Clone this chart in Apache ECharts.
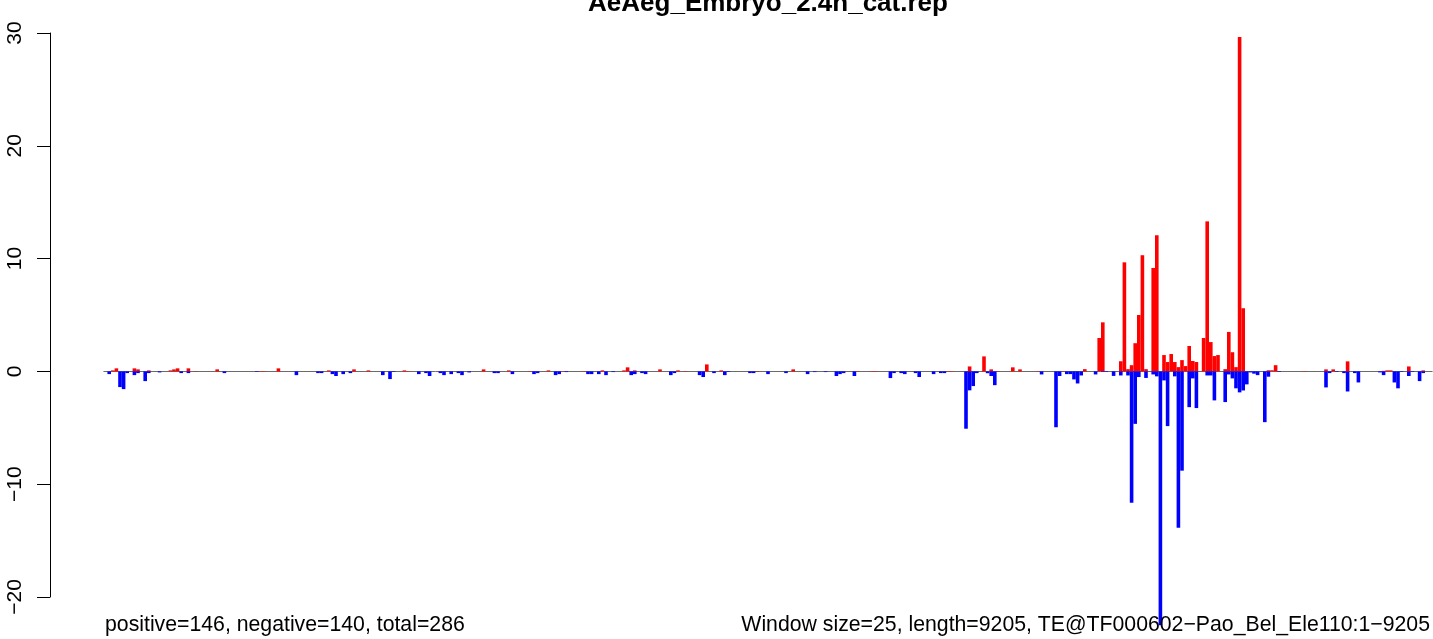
<!DOCTYPE html>
<html><head><meta charset="utf-8">
<script src="https://cdn.jsdelivr.net/npm/echarts@6/dist/echarts.min.js"></script>
<style>html,body{margin:0;padding:0;background:#fff}#c{width:1433px;height:639px}</style>
</head><body><div id="c"></div>
<script>
// ---- data ----
const chartTitle = 'AeAeg_Embryo_2.4h_cat.rep';
const footerLeft = 'positive=146, negative=140, total=286';
const footerRight = 'Window size=25, length=9205, TE@TF000602\u2212Pao_Bel_Ele110:1\u22129205';
const windowCount = 369;            // 9205 / 25, rounded up
const yTickValues = [-20, -10, 0, 10, 20, 30];
// [window index, value]
const positiveWindows = [
  [2,0.09],[3,0.27],[8,0.27],[9,0.18],[12,0.09],[18,0.09],[19,0.18],[20,0.27],[23,0.27],[25,0.03],
  [31,0.18],[43,0.03],[44,0.03],[48,0.27],[62,0.09],[69,0.18],[73,0.09],[83,0.09],[84,0.03],
  [105,0.18],[112,0.09],[118,0.03],[123,0.09],[127,0.03],[133,0.03],[138,0.09],[144,0.09],[145,0.36],
  [147,0.09],[154,0.18],[159,0.09],[161,0.03],[167,0.62],[171,0.09],[181,0.03],[191,0.18],[209,0.03],
  [213,0.03],[214,0.03],[234,0.03],[235,0.03],[240,0.44],[244,1.33],[246,0.18],[248,0.03],[252,0.36],
  [254,0.18],[259,0.03],[266,0.03],[272,0.2],[276,2.96],[277,4.35],[282,0.9],[283,9.67],[284,0.2],
  [285,0.55],[286,2.5],[287,5.0],[288,10.3],[289,0.2],[291,9.17],[292,12.07],[294,1.45],[295,0.83],
  [296,1.54],[297,0.83],[298,0.38],[299,1.0],[300,0.47],[301,2.25],[302,0.92],[303,0.83],[305,2.96],
  [306,13.3],[307,2.6],[308,1.36],[309,1.45],[311,0.2],[312,3.5],[313,1.7],[314,0.38],[315,29.65],
  [316,5.6],[323,0.1],[324,0.1],[325,0.55],[333,0.03],[339,0.18],[341,0.18],[345,0.89],[355,0.05],
  [356,0.09],[357,0.09],[362,0.44],[366,0.09]
];
const negativeWindows = [
  [1,-0.24],[4,-1.39],[5,-1.57],[6,-0.15],[8,-0.33],[9,-0.15],[11,-0.86],[12,-0.15],[15,-0.09],[21,-0.15],
  [23,-0.15],[33,-0.15],[42,-0.05],[53,-0.33],[59,-0.15],[60,-0.15],[63,-0.24],[64,-0.41],[66,-0.24],
  [68,-0.15],[77,-0.33],[79,-0.68],[80,-0.05],[87,-0.24],[89,-0.15],[90,-0.41],[93,-0.15],[94,-0.33],
  [96,-0.24],[98,-0.15],[99,-0.33],[101,-0.09],[108,-0.15],[109,-0.15],[113,-0.24],[119,-0.24],
  [120,-0.15],[125,-0.33],[126,-0.24],[128,-0.06],[134,-0.24],[135,-0.24],[137,-0.24],[139,-0.33],
  [141,-0.06],[146,-0.33],[147,-0.24],[149,-0.15],[150,-0.24],[157,-0.33],[158,-0.15],[165,-0.33],
  [166,-0.5],[169,-0.15],[172,-0.33],[173,-0.05],[179,-0.15],[180,-0.15],[184,-0.24],[189,-0.15],
  [195,-0.24],[197,-0.06],[200,-0.06],[203,-0.41],[204,-0.24],[205,-0.15],[208,-0.41],[218,-0.59],
  [219,-0.15],[221,-0.15],[222,-0.24],[225,-0.15],[226,-0.5],[230,-0.24],[232,-0.15],[233,-0.15],
  [239,-5.08],[240,-1.68],[241,-1.3],[242,-0.15],[245,-0.16],[246,-0.41],[247,-1.22],[260,-0.27],
  [264,-4.95],[265,-0.41],[267,-0.24],[268,-0.24],[269,-0.71],[270,-1.07],[271,-0.36],[275,-0.27],
  [277,-0.05],[278,-0.05],[280,-0.4],[282,-0.36],[284,-0.36],[285,-11.65],[286,-4.65],[287,-0.5],
  [289,-0.58],[291,-0.27],[292,-0.44],[293,-22.5],[294,-0.8],[295,-4.85],[297,-0.44],[298,-13.85],
  [299,-8.8],[301,-3.17],[302,-0.62],[303,-3.25],[306,-0.36],[307,-0.36],[308,-2.57],[311,-2.72],
  [312,-0.27],[313,-0.62],[314,-1.5],[315,-1.86],[316,-1.69],[317,-1.15],[318,-0.09],[319,-0.2],
  [320,-0.33],[322,-4.5],[323,-0.47],[326,-0.05],[339,-1.42],[340,-0.15],[342,-0.05],[344,-0.15],
  [345,-1.78],[347,-0.15],[348,-0.98],[354,-0.09],[355,-0.33],[358,-0.98],[359,-1.5],[360,-0.05],
  [362,-0.41],[363,-0.05],[365,-0.86],[366,-0.15]
];

// ---- build ----
const categories = Array.from({length: windowCount}, (_, i) => String(i + 1));
const posData = new Array(windowCount).fill(null);
const negData = new Array(windowCount).fill(null);
positiveWindows.forEach(([k, v]) => { posData[k] = v; });
negativeWindows.forEach(([k, v]) => { negData[k] = v; });

const FONT = '"Liberation Sans", Arial, Helvetica, sans-serif';
const yMin = yTickValues[0], yMax = yTickValues[yTickValues.length - 1];
const pxPerUnit = 564 / (yMax - yMin);
const plotMin = -23, plotMax = 31;

const chart = echarts.init(document.getElementById('c'), null, {renderer: 'canvas'});
chart.setOption({
  animation: false,
  backgroundColor: '#ffffff',
  grid: [
    {left: 103.8, width: 1328.4, top: 33 - (plotMax - yMax) * pxPerUnit, height: (plotMax - plotMin) * pxPerUnit, outerBoundsMode: 'none', containLabel: false},
    {left: 50, width: 100, top: 33, height: 564, outerBoundsMode: 'none', containLabel: false}
  ],
  xAxis: [
    {gridIndex: 0, type: 'category', data: categories, boundaryGap: true,
     axisLine: {show: true, onZero: true, lineStyle: {color: '#6b6b6b', width: 1}},
     axisTick: {show: false}, axisLabel: {show: false}, splitLine: {show: false}},
    {gridIndex: 1, type: 'value', min: 0, max: 1, show: false}
  ],
  yAxis: [
    {gridIndex: 0, type: 'value', min: plotMin, max: plotMax, show: false, splitLine: {show: false}},
    {gridIndex: 1, type: 'value', min: yMin, max: yMax, interval: 10, position: 'left',
     axisLine: {show: true, lineStyle: {color: '#000', width: 1}},
     axisTick: {show: true, inside: false, length: 13, lineStyle: {color: '#000', width: 1}},
     axisLabel: {rotate: 90, margin: 24, fontSize: 21, fontFamily: FONT, color: '#000',
       formatter: v => (v < 0 ? '\u2212' + Math.abs(v) : String(v))},
     splitLine: {show: false}}
  ],
  series: [
    {type: 'bar', xAxisIndex: 0, yAxisIndex: 0, data: posData, barWidth: '100%', barGap: '-100%', barCategoryGap: 0,
     itemStyle: {color: '#ff0000'}, silent: true},
    {type: 'bar', xAxisIndex: 0, yAxisIndex: 0, data: negData, barWidth: '100%', barGap: '-100%', barCategoryGap: 0,
     itemStyle: {color: '#0000ff'}, silent: true}
  ],
  graphic: [
    {type: 'text', x: 768, y: 4, z: 100, style: {text: chartTitle, font: 'bold 26px ' + FONT, fill: '#000', align: 'center', verticalAlign: 'middle'}},
    {type: 'text', x: 105, y: 625.6, z: 100, style: {text: footerLeft, font: '21.25px ' + FONT, fill: '#000', align: 'left', verticalAlign: 'middle'}},
    {type: 'text', x: 1430, y: 625.6, z: 100, style: {text: footerRight, font: '21.25px ' + FONT, fill: '#000', align: 'right', verticalAlign: 'middle'}}
  ]
});
</script></body></html>
